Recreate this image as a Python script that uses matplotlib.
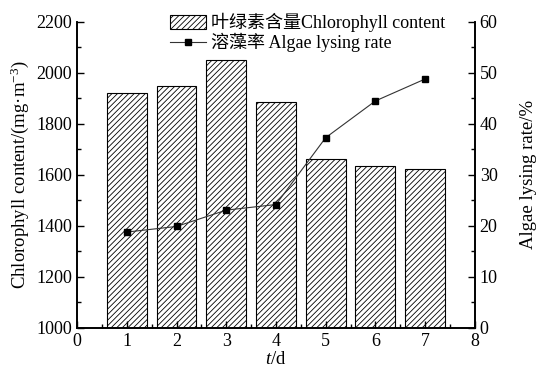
import numpy as np
import matplotlib.pyplot as plt
from matplotlib.ticker import MultipleLocator

plt.rcParams['font.family'] = ['Liberation Serif', 'Noto Sans CJK SC']
plt.rcParams['mathtext.fontset'] = 'custom'
plt.rcParams['mathtext.rm'] = 'Liberation Serif'
plt.rcParams['mathtext.it'] = 'Liberation Serif:italic'
plt.rcParams['hatch.color'] = '#666666'
plt.rcParams['hatch.linewidth'] = 0.6

days = [1, 2, 3, 4, 5, 6, 7]
chlorophyll = [1920, 1948, 2050, 1885, 1662, 1635, 1625]
lysing_rate = [18.8, 19.9, 23.1, 24.2, 37.3, 44.5, 48.8]

fig = plt.figure(figsize=(5.47, 3.71), dpi=100)
ax = fig.add_axes([0.141, 0.116, 0.727, 0.825])
ax2 = ax.twinx()

bars = ax.bar(days, chlorophyll, width=0.8, bottom=0, color='white',
              edgecolor='black', linewidth=0.8, hatch='//////',
              label='叶绿素含量Chlorophyll content')
line, = ax2.plot(days, lysing_rate, color='#333333', lw=0.8, marker='s',
                 markersize=4.5, markerfacecolor='black',
                 markeredgecolor='black', label='溶藻率 Algae lysing rate')

ax.set_xlim(0, 8)
ax.set_ylim(1000, 2200)
ax2.set_ylim(0, 60)
ax.xaxis.set_major_locator(MultipleLocator(1))
ax.xaxis.set_minor_locator(MultipleLocator(0.5))
ax.yaxis.set_major_locator(MultipleLocator(200))
ax.yaxis.set_minor_locator(MultipleLocator(100))
ax2.yaxis.set_major_locator(MultipleLocator(10))
ax2.yaxis.set_minor_locator(MultipleLocator(5))

for a in (ax, ax2):
    a.spines['top'].set_visible(False)
    a.tick_params(which='both', direction='in', labelsize=13, width=1)
    a.tick_params(which='major', length=5)
    a.tick_params(which='minor', length=3)
    for s in a.spines.values():
        s.set_linewidth(1.2)
ax.tick_params(axis='y', right=False)

ax.set_xlabel('$t$/d', fontsize=13.5, labelpad=1)
ax.set_ylabel('Chlorophyll content/(mg·m$^{-3}$)', fontsize=13.5, labelpad=4)
ax2.set_ylabel('Algae lysing rate/%', fontsize=13.5, labelpad=16)

ax.legend([bars, line], [bars.get_label(), line.get_label()],
          loc='upper left', bbox_to_anchor=(168 / 547, 1 - 11 / 371),
          bbox_transform=fig.transFigure, frameon=False,
          fontsize=13, handlelength=2.0, handleheight=0.8, handletextpad=0.3,
          borderpad=0.1, borderaxespad=0, labelspacing=0.05)

fig.savefig('out.png', dpi=100)
